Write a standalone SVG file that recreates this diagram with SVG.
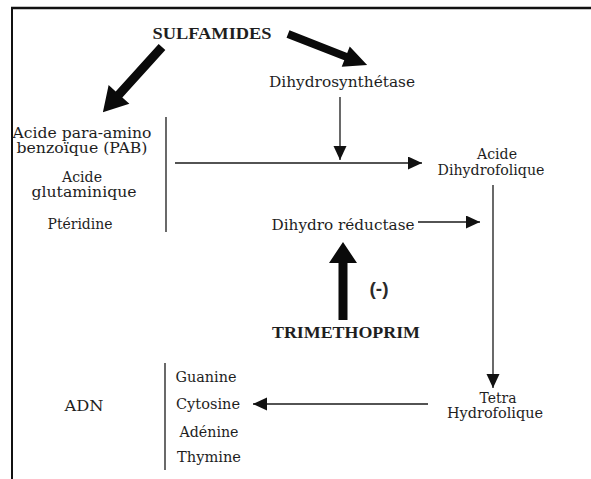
<svg xmlns="http://www.w3.org/2000/svg" width="591" height="479" viewBox="0 0 591 479">
<style>
  .t{font-family:"DejaVu Serif","Liberation Serif",serif;font-size:14.5px;fill:#1e1e1e;text-anchor:middle}
  .b{font-family:"Liberation Serif","DejaVu Serif",serif;font-size:16px;font-weight:bold;fill:#1e1e1e;text-anchor:middle}
  .m{font-family:"Liberation Sans","DejaVu Sans",sans-serif;font-size:19px;font-weight:bold;fill:#2a2a2a;text-anchor:middle}
  .ln{stroke:#1a1a1a;stroke-width:1.3;fill:none}
  .ar{stroke:#1a1a1a;stroke-width:1.3;fill:none;marker-end:url(#ah)}
  .thick{fill:#0a0a0a}
</style>
<defs>
  <marker id="ah" markerUnits="userSpaceOnUse" markerWidth="16" markerHeight="14" refX="14" refY="6.5" orient="auto">
    <path d="M0,0 L14,6.5 L0,13 z" fill="#111"/>
  </marker>
</defs>
<rect width="591" height="479" fill="#ffffff"/>
<g id="frame">
  <line x1="11" y1="8" x2="591" y2="8" stroke="#111" stroke-width="2.5"/>
  <line x1="12" y1="7" x2="12" y2="479" stroke="#111" stroke-width="2"/>
</g>
<g id="connectors">
  <polygon class="thick" transform="translate(162,47) rotate(132.2)" points="0,-4.5 64,-4.5 64,-14 88,0 64,14 64,4.5 0,4.5"/>
  <polygon class="thick" transform="translate(288,34) rotate(21.4)" points="0,-4 62,-4 62,-11 85,0 62,11 62,4 0,4"/>
  <polygon class="thick" transform="translate(343,320) rotate(-90)" points="0,-4.5 57,-4.5 57,-14 78,0 57,14 57,4.5 0,4.5"/>
  <line class="ar" x1="340" y1="97" x2="340" y2="160"/>
  <line class="ar" x1="175" y1="163" x2="422" y2="163"/>
  <line class="ar" x1="418" y1="222" x2="480" y2="222"/>
  <line class="ar" x1="493" y1="185" x2="493" y2="388"/>
  <line class="ar" x1="428" y1="404" x2="253" y2="404"/>
  <line class="ln" x1="166" y1="117" x2="166" y2="232"/>
  <line class="ln" x1="165" y1="363" x2="165" y2="470"/>
</g>
<g id="sulfamides"><text class="b" x="212" y="39" textLength="119" lengthAdjust="spacingAndGlyphs">SULFAMIDES</text></g>
<g id="dihydrosynthetase"><text class="t" x="342" y="87" textLength="146" lengthAdjust="spacingAndGlyphs">Dihydrosynthétase</text></g>
<g id="precurseurs">
  <text class="t" x="82" y="138" textLength="139" lengthAdjust="spacingAndGlyphs">Acide para-amino</text>
  <text class="t" x="82" y="153" textLength="131" lengthAdjust="spacingAndGlyphs">benzoïque (PAB)</text>
  <text class="t" x="82" y="182" textLength="40" lengthAdjust="spacingAndGlyphs">Acide</text>
  <text class="t" x="84" y="197" textLength="105" lengthAdjust="spacingAndGlyphs">glutaminique</text>
  <text class="t" x="80" y="229" textLength="65" lengthAdjust="spacingAndGlyphs">Ptéridine</text>
</g>
<g id="acide-dihydrofolique">
  <text class="t" x="497" y="159" textLength="40" lengthAdjust="spacingAndGlyphs">Acide</text>
  <text class="t" x="491" y="175" textLength="107" lengthAdjust="spacingAndGlyphs">Dihydrofolique</text>
</g>
<g id="dihydro-reductase"><text class="t" x="343" y="230" textLength="143" lengthAdjust="spacingAndGlyphs">Dihydro réductase</text></g>
<g id="inhibition"><text class="m" x="379" y="295">(-)</text></g>
<g id="trimethoprim"><text class="b" x="346" y="338" textLength="148" lengthAdjust="spacingAndGlyphs">TRIMETHOPRIM</text></g>
<g id="tetrahydrofolique">
  <text class="t" x="498" y="403" textLength="37" lengthAdjust="spacingAndGlyphs">Tetra</text>
  <text class="t" x="495" y="418" textLength="96" lengthAdjust="spacingAndGlyphs">Hydrofolique</text>
</g>
<g id="adn"><text class="t" x="84" y="411" textLength="39" lengthAdjust="spacingAndGlyphs">ADN</text></g>
<g id="bases">
  <text class="t" x="206" y="382" textLength="61" lengthAdjust="spacingAndGlyphs">Guanine</text>
  <text class="t" x="208" y="409" textLength="64" lengthAdjust="spacingAndGlyphs">Cytosine</text>
  <text class="t" x="209" y="437" textLength="59" lengthAdjust="spacingAndGlyphs">Adénine</text>
  <text class="t" x="209" y="462" textLength="64" lengthAdjust="spacingAndGlyphs">Thymine</text>
</g>
</svg>
